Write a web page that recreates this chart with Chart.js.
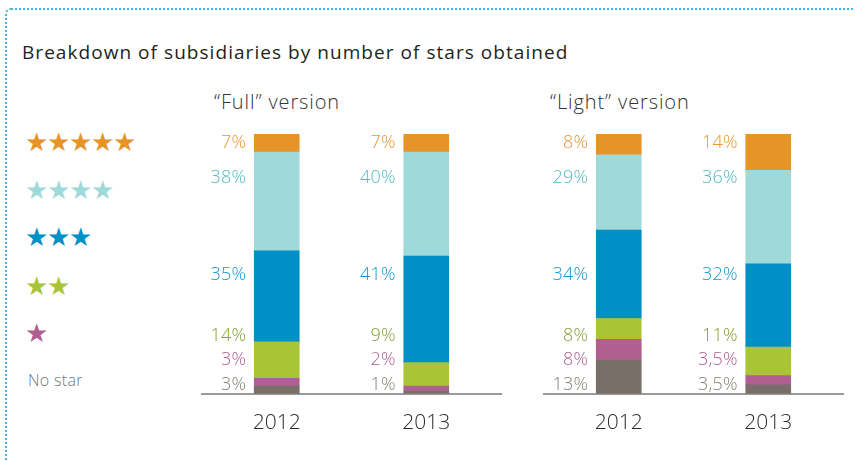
<!DOCTYPE html>
<html>
<head>
<meta charset="utf-8">
<script src="https://cdn.jsdelivr.net/npm/chart.js@4/dist/chart.umd.min.js"></script>
<style>
  html, body { margin: 0; padding: 0; background: #fff; }
  body { width: 855px; height: 461px; position: relative; overflow: hidden;
         font-family: "Open Sans", Lato, "DejaVu Sans", sans-serif; }
  .frame { position: absolute; left: 5px; top: 8px; width: 900px; height: 520px;
           border-top: 2px dotted #45b6e0; border-left: 2px dotted #45b6e0;
           border-top-left-radius: 6px; box-sizing: border-box; }
  .title { position: absolute; left: 22px; top: 39px; font-size: 19px; line-height: 26px;
           letter-spacing: 1.05px; color: #231f20; white-space: nowrap; }
  .sub { position: absolute; top: 89px; font-size: 20px; line-height: 26px; color: #333;
         letter-spacing: 0.9px; font-weight: 300; white-space: nowrap; }
  .stars { position: absolute; left: 25px; font-family: "DejaVu Sans", sans-serif;
           font-size: 26px; line-height: 28px; letter-spacing: -1.3px; white-space: nowrap; }
  .nostar { position: absolute; left: 28px; top: 369px; font-size: 16px; line-height: 22px;
            letter-spacing: 0.3px; color: #7a7570; font-weight: 300; }
  .panel { position: absolute; top: 120px; width: 320px; height: 341px; }
</style>
</head>
<body>
<div class="frame"></div>
<div class="title">Breakdown of subsidiaries by number of stars obtained</div>
<div class="sub" style="left:214px">“Full” version</div>
<div class="sub" style="left:550px">“Light” version</div>
<div id="legend"></div>
<div class="nostar">No star</div>
<div class="panel" style="left:190px"><canvas id="full"></canvas></div>
<div class="panel" style="left:535px"><canvas id="light"></canvas></div>

<script>
// Years shown under each pair of bars
const years = ['2012', '2013'];

// Share of subsidiaries (%) per number of stars, "Full" version
const fullNoStar = [3, 1];
const fullOneStar = [3, 2];
const fullTwoStars = [14, 9];
const fullThreeStars = [35, 41];
const fullFourStars = [38, 40];
const fullFiveStars = [7, 7];

// Share of subsidiaries (%) per number of stars, "Light" version
const lightNoStar = [13, 3.5];
const lightOneStar = [8, 3.5];
const lightTwoStars = [8, 11];
const lightThreeStars = [34, 32];
const lightFourStars = [29, 36];
const lightFiveStars = [8, 14];

// Series, bottom of the stack first
const seriesNames = ['No star', '1 star', '2 stars', '3 stars', '4 stars', '5 stars'];
const starCounts = [0, 1, 2, 3, 4, 5];
const barColors = ['#786f69', '#b05f90', '#a9c537', '#0090c8', '#9fd9d9', '#e69428'];
const textColors = ['#878079', '#b05f93', '#86a037', '#1796d2', '#54bcc4', '#eb9634'];

// Fixed label rows, in axis units (labels sit in rows beside the bars)
const labelRows = [3.4, 13, 22.2, 45.6, 83.2, 96.7];

function fmtPct(v) { return String(v).replace('.', ',') + '%'; }

// Star legend on the left, top row = 5 stars
const legend = document.getElementById('legend');
const rowTops = { 5: 128, 4: 176, 3: 223, 2: 272, 1: 319 };
for (let i = seriesNames.length - 1; i >= 1; i--) {
  const d = document.createElement('div');
  d.className = 'stars';
  d.style.top = rowTops[starCounts[i]] + 'px';
  d.style.color = barColors[i];
  d.textContent = '★'.repeat(starCounts[i]);
  legend.appendChild(d);
}

// Percentages written to the left of each bar
const rowLabels = {
  id: 'rowLabels',
  afterDatasetsDraw(chart) {
    const { ctx, scales: { y } } = chart;
    ctx.save();
    ctx.font = '300 18px "Open Sans", Lato, sans-serif';
    ctx.letterSpacing = '0.2px';
    ctx.textAlign = 'right';
    ctx.textBaseline = 'middle';
    chart.data.datasets.forEach((ds, i) => {
      const meta = chart.getDatasetMeta(i);
      meta.data.forEach((bar, j) => {
        const left = bar.x - bar.width / 2;
        ctx.fillStyle = textColors[i];
        ctx.fillText(fmtPct(ds.data[j]), left - 8, y.getPixelForValue(labelRows[i]));
      });
    });
    ctx.restore();
  }
};

function makePanel(id, series, pad) {
  new Chart(document.getElementById(id), {
    type: 'bar',
    data: {
      labels: years,
      datasets: series.map((vals, i) => ({
        label: seriesNames[i],
        data: vals,
        backgroundColor: barColors[i],
        borderWidth: 0,
        barThickness: 45
      }))
    },
    options: {
      responsive: true,
      maintainAspectRatio: false,
      animation: false,
      layout: { padding: pad },
      plugins: { legend: { display: false }, tooltip: { enabled: false } },
      scales: {
        x: {
          stacked: true,
          grid: { display: false, drawTicks: false },
          border: { display: true, color: '#9a9a9a', width: 2 },
          ticks: { color: '#2b2b2b', padding: 17,
                   font: { family: '"Open Sans", Lato, sans-serif', size: 21, weight: 300 } }
        },
        y: { stacked: true, display: false, min: 0, max: 100 }
      }
    },
    plugins: [rowLabels]
  });
}

makePanel('full',
  [fullNoStar, fullOneStar, fullTwoStars, fullThreeStars, fullFourStars, fullFiveStars],
  { left: 12, right: 9, top: 14, bottom: 8 });
makePanel('light',
  [lightNoStar, lightOneStar, lightTwoStars, lightThreeStars, lightFourStars, lightFiveStars],
  { left: 9, right: 12, top: 14, bottom: 8 });
</script>
</body>
</html>
